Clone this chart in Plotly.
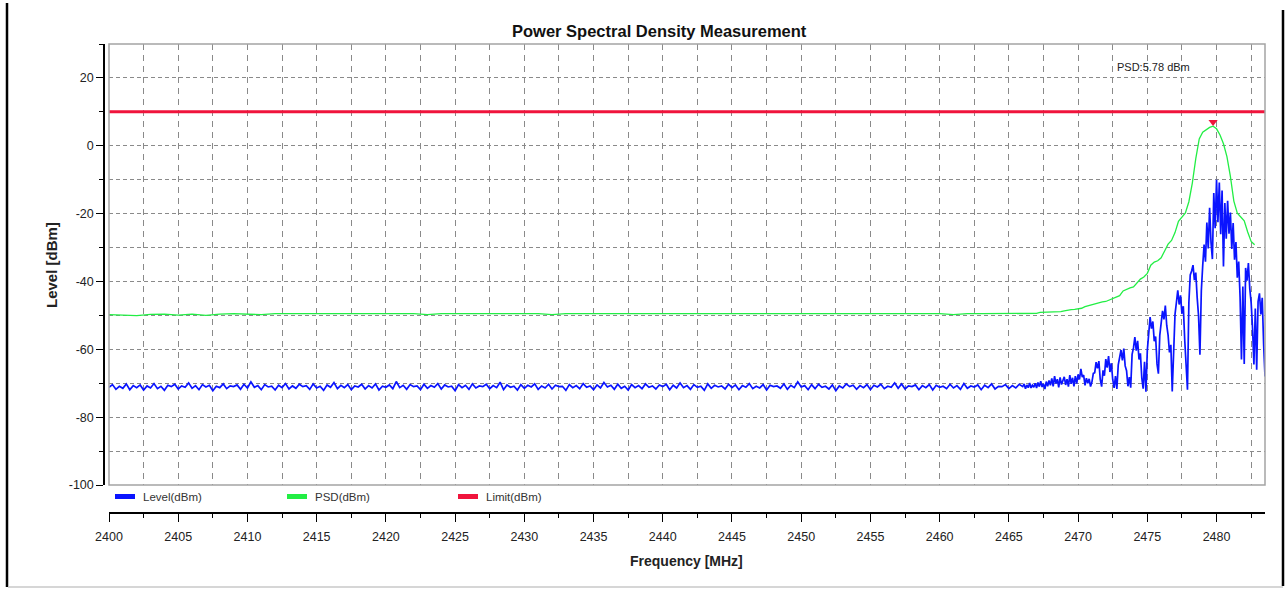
import numpy as np
import plotly.graph_objects as go

# ---------------- data ----------------
TITLE = "Power Spectral Density Measurement"
X_TITLE = "Frequency [MHz]"
Y_TITLE = "Level [dBm]"
SERIES_NAMES = ["Level(dBm)", "PSD(dBm)", "Limit(dBm)"]

FREQ_MIN, FREQ_MAX = 2400.0, 2483.5
LEVEL_MIN, LEVEL_MAX = -100, 30
X_TICKS = [2400, 2405, 2410, 2415, 2420, 2425, 2430, 2435, 2440, 2445,
           2450, 2455, 2460, 2465, 2470, 2475, 2480]
Y_TICKS = [-100, -80, -60, -40, -20, 0, 20]
LIMIT_DBM = 10.0

# Level trace, noise floor 2400.00 .. 2465.75 MHz (0.25 MHz step)
level_base_start, level_base_step = 2400.0, 0.25
level_base = [
    -71.2, -70.4, -71.8, -70.9, -71.5, -70.2, -71.9, -70.7, -71.3, -70.5, -72.0, -70.8,
    -71.4, -70.1, -71.6, -70.9, -72.1, -70.6, -71.0, -70.3, -71.7, -70.8, -71.2, -69.9,
    -71.5, -70.7, -71.9, -70.4, -71.1, -70.6, -72.2, -70.9, -71.3, -70.2, -71.6, -70.8,
    -71.0, -70.5, -71.8, -70.3, -71.4, -69.6, -71.2, -70.7, -71.9, -70.4, -71.1, -70.9,
    -72.0, -70.6, -71.3, -70.1, -71.7, -70.8, -71.5, -70.3, -71.0, -70.7, -71.8, -70.2,
    -71.4, -70.9, -72.1, -70.5, -71.2, -69.8, -71.6, -70.6, -71.3, -70.4, -71.9, -70.8,
    -71.1, -70.3, -71.7, -70.7, -71.4, -70.2, -72.0, -70.9, -71.2, -70.5, -71.6, -69.5,
    -71.3, -70.6, -71.8, -70.4, -71.0, -70.8, -71.9, -70.3, -71.5, -70.7, -71.2, -70.1,
    -71.7, -70.5, -71.1, -70.9, -72.2, -70.4, -71.3, -70.6, -71.8, -70.2, -71.4, -70.8,
    -71.0, -70.3, -71.6, -70.7, -71.3, -69.7, -71.9, -70.5, -71.2, -70.9, -72.0, -70.4,
    -71.5, -70.6, -71.1, -70.2, -71.8, -70.8, -71.4, -70.3, -71.7, -70.6, -71.0, -70.9,
    -72.1, -70.4, -71.3, -70.7, -71.6, -70.1, -71.2, -70.8, -71.9, -70.5, -71.4, -69.8,
    -71.1, -70.6, -71.8, -70.3, -71.5, -70.9, -72.0, -70.4, -71.3, -70.7, -71.6, -70.2,
    -71.2, -70.8, -71.7, -70.5, -71.0, -70.3, -71.9, -70.6, -71.4, -69.9, -71.3, -70.7,
    -71.8, -70.4, -71.2, -70.9, -72.1, -70.2, -71.5, -70.6, -71.1, -70.8, -71.7, -70.3,
    -71.3, -70.5, -71.9, -70.7, -71.2, -70.1, -71.6, -70.9, -71.4, -70.4, -72.0, -70.6,
    -71.0, -70.8, -71.5, -70.2, -71.8, -70.6, -71.3, -69.6, -71.1, -70.7, -71.9, -70.4,
    -71.6, -70.3, -71.2, -70.9, -71.7, -70.5, -72.2, -70.8, -71.4, -70.2, -71.0, -70.6,
    -71.8, -70.7, -71.3, -70.4, -71.9, -70.6, -71.1, -70.3, -71.6, -70.9, -71.2, -69.9,
    -71.5, -70.2, -71.7, -70.8, -71.0, -70.5, -71.9, -70.7, -71.3, -70.4, -72.0, -70.6,
    -71.2, -70.9, -71.6, -70.3, -71.4, -70.7, -71.8, -70.1, -71.5, -70.8, -71.1, -70.5,
    -71.9, -70.6, -71.3, -70.2, -71.7, -70.9, -71.0, -70.4, -71.6, -70.7, -71.4, -70.3,
]

# Level trace, signal region 2466.0 .. 2483.5 MHz (0.1 MHz step)
level_sig_start, level_sig_step = 2466.0, 0.1
level_sig = [
    -71.0, -70.2, -71.6, -70.5, -71.3, -69.9, -71.4, -70.6, -71.2, -70.0,
    -71.4, -69.8, -71.0, -69.4, -71.1, -70.2, -71.7, -69.5, -70.9, -69.2,
    -70.6, -68.6, -70.9, -67.9, -70.1, -68.8, -71.2, -68.3, -70.4, -69.0,
    -68.1, -70.5, -68.8, -71.0, -67.6, -70.2, -68.4, -70.9, -67.9, -70.1,
    -67.4, -68.9, -65.8, -68.2, -67.6, -70.6, -68.5, -70.0, -68.7, -71.0,
    -69.6, -67.1, -66.9, -63.8, -65.6, -63.5, -68.9, -71.0, -66.2, -67.8,
    -62.9, -65.4, -62.0, -66.7, -64.1, -68.9, -71.4, -67.9, -71.7, -64.6,
    -62.6, -60.2, -63.3, -59.8, -64.9, -66.3, -70.9, -68.2, -71.3, -61.5,
    -59.6, -56.4, -60.4, -57.5, -63.0, -61.2, -68.4, -71.6, -63.7, -72.5,
    -60.3, -54.1, -50.5, -53.9, -51.8, -57.6, -56.2, -64.3, -67.2, -55.9,
    -52.4, -48.7, -51.2, -47.1, -52.9, -55.8, -60.9, -58.7, -72.4, -59.6,
    -49.7, -46.2, -42.6, -46.8, -44.1, -49.5, -47.3, -57.1, -64.8, -71.9,
    -46.3, -38.1, -36.9, -35.2, -39.6, -37.4, -44.7, -50.2, -61.6, -42.8,
    -35.4, -29.1, -34.2, -22.6, -30.3, -18.3, -28.5, -33.4, -13.9, -24.3,
    -10.0, -22.5, -10.8, -26.1, -13.2, -35.6, -16.9, -27.4, -16.2, -25.9,
    -19.7, -30.4, -22.8, -33.6, -28.4, -38.9, -34.1, -44.6, -63.0, -41.5,
    -64.3, -36.0, -39.8, -34.6, -42.1, -46.3, -53.8, -64.5, -48.0, -66.0,
    -45.9, -43.5, -49.7, -44.8, -58.4, -68.0,
]

# PSD trace, flat part 2400 .. 2465 MHz (1 MHz step)
psd_flat_start, psd_flat_step = 2400.0, 1.0
psd_flat = [
    -49.8, -50.0, -50.1, -49.7, -49.6, -49.9, -49.6, -50.0, -49.6, -49.5,
    -49.6, -49.8, -49.5, -49.5, -49.6, -49.5, -49.5, -49.6, -49.5, -49.7,
    -49.5, -49.5, -49.5, -49.8, -49.5, -49.5, -49.4, -49.5, -49.5, -49.5,
    -49.5, -49.5, -49.8, -49.5, -49.5, -49.5, -49.5, -49.5, -49.5, -49.5,
    -49.5, -49.5, -49.5, -49.5, -49.5, -49.5, -49.5, -49.5, -49.5, -49.5,
    -49.5, -49.5, -49.5, -49.5, -49.5, -49.5, -49.5, -49.5, -49.5, -49.5,
    -49.5, -49.8, -49.5, -49.5, -49.5, -49.5,
]

# PSD trace, signal part 2466.00 .. 2482.75 MHz (0.25 MHz step)
psd_sig_start, psd_sig_step = 2466.0, 0.25
psd_sig = [
    -49.5, -49.5, -49.5, -49.5, -49.4, -49.1, -49.1, -49.1,
    -49.0, -49.0, -48.9, -48.9, -48.7, -48.4, -48.3, -48.2,
    -48.1, -47.9, -47.4, -47.1, -46.8, -46.5, -46.3, -46.0,
    -45.9, -45.5, -44.9, -44.6, -44.2, -42.8, -42.3, -41.9,
    -41.6, -40.4, -39.3, -38.7, -37.6, -35.2, -34.3, -33.9,
    -33.0, -31.0, -29.0, -27.9, -25.6, -22.3, -21.0, -19.8,
    -16.5, -11.0, -3.8, 2.0, 4.0, 4.8, 5.4, 5.78,
    5.0, 3.2, 0.6, -3.2, -9.0, -16.3, -19.9, -21.0,
    -22.1, -25.4, -28.2, -29.2,
]

# ---------------- styling ----------------
BLUE = "#0a14ff"
GREEN = "#22ee44"
RED = "#f0143c"
GRID = "#8a8a8a"
FRAME = "#a4a4a4"
SANS = "Liberation Sans, Arial, sans-serif"

W, H = 1287, 589
ML, MR, MT, MB = 104, 22, 44, 76
PW, PH = W - ML - MR, H - MT - MB


def px_x(p):
    return (p - ML) / PW


def px_y(p):
    return (H - MB - p) / PH


def grid(start, step, n):
    return np.round(start + step * np.arange(n), 4)


level_x = np.concatenate([grid(level_base_start, level_base_step, len(level_base)),
                          grid(level_sig_start, level_sig_step, len(level_sig))])
level_y = np.array(level_base + level_sig)
psd_x = np.concatenate([grid(psd_flat_start, psd_flat_step, len(psd_flat)),
                        grid(psd_sig_start, psd_sig_step, len(psd_sig))])
psd_y = np.array(psd_flat + psd_sig)
ipk = int(np.argmax(psd_y))
peak_x, peak_y = psd_x[ipk], psd_y[ipk]

fig = go.Figure()
fig.add_trace(go.Scatter(x=[FREQ_MIN, FREQ_MAX], y=[LIMIT_DBM, LIMIT_DBM], mode="lines",
                         line=dict(color=RED, width=3), name=SERIES_NAMES[2],
                         hoverinfo="skip"))
fig.add_trace(go.Scatter(x=psd_x, y=psd_y, mode="lines",
                         line=dict(color=GREEN, width=1.3), name=SERIES_NAMES[1]))
fig.add_trace(go.Scatter(x=level_x, y=level_y, mode="lines",
                         line=dict(color=BLUE, width=1.7), name=SERIES_NAMES[0]))
fig.add_trace(go.Scatter(x=[peak_x], y=[peak_y + 1.2], mode="markers",
                         marker=dict(symbol="triangle-down", size=8, color=RED,
                                     line=dict(width=0)),
                         showlegend=False, hoverinfo="skip"))

tickfont = dict(family=SANS, size=12.5, color="#222")
fig.update_xaxes(
    domain=[px_x(109), 1], range=[FREQ_MIN, FREQ_MAX], anchor="free", position=0,
    showline=True, linecolor="#000", linewidth=1.5,
    ticks="outside", ticklen=8, tickcolor="#000", tickwidth=1,
    tickvals=X_TICKS, ticktext=[str(v) for v in X_TICKS], tickfont=tickfont,
    ticklabelstandoff=4,
    showgrid=True, gridcolor=GRID, gridwidth=1, griddash="6px,5px",
    minor=dict(dtick=2.5, tick0=2400, ticks="outside", ticklen=4, tickcolor="#000",
               showgrid=True, gridcolor=GRID, gridwidth=1, griddash="6px,5px"),
    zeroline=False, fixedrange=True,
)
fig.update_yaxes(
    domain=[px_y(485), 1], range=[LEVEL_MIN, LEVEL_MAX], anchor="free", position=0,
    showline=True, linecolor="#000", linewidth=1.5,
    ticks="outside", ticklen=7, tickcolor="#000", tickwidth=1,
    tickvals=Y_TICKS, ticktext=[str(v) for v in Y_TICKS], tickfont=tickfont,
    showgrid=True, gridcolor=GRID, gridwidth=1, griddash="4px,3px",
    minor=dict(dtick=10, tick0=0, ticks="outside", ticklen=4, tickcolor="#000",
               showgrid=True, gridcolor=GRID, gridwidth=1, griddash="4px,3px"),
    zeroline=False, fixedrange=True,
)

shapes = [
    # plot frame
    dict(type="rect", xref="paper", yref="paper", x0=px_x(109), x1=1,
         y0=px_y(485), y1=1, line=dict(color=FRAME, width=1.5), layer="above"),
    # window borders
    dict(type="line", xref="paper", yref="paper", x0=px_x(7), x1=px_x(7),
         y0=px_y(3), y1=px_y(587), line=dict(color="#000", width=2.5)),
    dict(type="line", xref="paper", yref="paper", x0=px_x(1283), x1=px_x(1283),
         y0=px_y(10), y1=px_y(586), line=dict(color="#000", width=2.5)),
    dict(type="line", xref="paper", yref="paper", x0=px_x(8), x1=px_x(1283),
         y0=px_y(587), y1=px_y(587), line=dict(color="#c8c8c8", width=1.5)),
]
legend_colors = [BLUE, GREEN, RED]
legend_sw = [115, 287, 458]
annotations = []
for name, col, sx in zip(SERIES_NAMES, legend_colors, legend_sw):
    shapes.append(dict(type="line", xref="paper", yref="paper",
                       x0=px_x(sx), x1=px_x(sx + 20), y0=px_y(496.5), y1=px_y(496.5),
                       line=dict(color=col, width=5)))
    annotations.append(dict(xref="paper", yref="paper", x=px_x(sx + 26), y=px_y(496.5),
                            text=name, showarrow=False, xanchor="left", yanchor="middle",
                            font=dict(family=SANS, size=11.5, color="#333")))

annotations += [
    dict(xref="paper", yref="paper", x=px_x(659.5), y=px_y(31), text=f"<b>{TITLE}</b>",
         showarrow=False, xanchor="center", yanchor="middle",
         font=dict(family=SANS, size=16.5, color="#111")),
    dict(xref="paper", yref="paper", x=px_x(686), y=px_y(561), text=f"<b>{X_TITLE}</b>",
         showarrow=False, xanchor="center", yanchor="middle",
         font=dict(family=SANS, size=14, color="#222")),
    dict(xref="paper", yref="paper", x=px_x(51), y=px_y(265), text=f"<b>{Y_TITLE}</b>",
         showarrow=False, xanchor="center", yanchor="middle", textangle=-90,
         font=dict(family=SANS, size=15, color="#222")),
    dict(xref="x", yref="y", x=2472.7, y=23.3, text=f"PSD:{peak_y:.2f} dBm",
         showarrow=False, xanchor="left", yanchor="middle",
         font=dict(family=SANS, size=11, color="#222")),
]

fig.update_layout(
    width=W, height=H, autosize=False,
    margin=dict(l=ML, r=MR, t=MT, b=MB, pad=0),
    paper_bgcolor="white", plot_bgcolor="white",
    showlegend=False, shapes=shapes, annotations=annotations,
    hovermode=False,
)

fig.write_html("out.html", include_plotlyjs=True, config={"displayModeBar": False})
